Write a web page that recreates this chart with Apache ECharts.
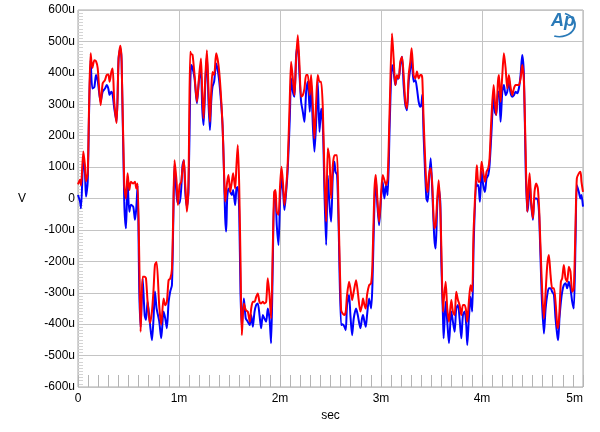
<!DOCTYPE html>
<html>
<head>
<meta charset="utf-8">
<script src="https://cdn.jsdelivr.net/npm/echarts@6/dist/echarts.min.js"></script>
<style>
  html, body { margin: 0; padding: 0; background: #fff; }
  #chart { width: 600px; height: 432px; }
</style>
</head>
<body>
<div id="chart"></div>
<script>
// time in ms, voltages in microvolts (u)
const timeMs = [
  0, 0.02, 0.03, 0.053, 0.069, 0.079, 0.096, 0.11, 0.125, 0.142, 0.162, 0.178, 0.195, 0.224, 0.244, 0.267,
  0.284, 0.30, 0.313, 0.33, 0.343, 0.359, 0.382, 0.402, 0.419, 0.432, 0.458, 0.475, 0.491, 0.508, 0.524, 0.547,
  0.564, 0.577, 0.59, 0.607, 0.62, 0.64, 0.66, 0.673, 0.689, 0.712, 0.732, 0.748, 0.762, 0.778, 0.804, 0.824,
  0.847, 0.864, 0.88, 0.897, 0.913, 0.93, 0.943, 0.956, 0.976, 0.989, 1.006, 1.022, 1.035, 1.048, 1.062, 1.078,
  1.094, 1.111, 1.121, 1.134, 1.154, 1.177, 1.2, 1.217, 1.23, 1.243, 1.26, 1.276, 1.293, 1.306, 1.319, 1.332,
  1.348, 1.368, 1.391, 1.411, 1.431, 1.444, 1.457, 1.467, 1.477, 1.49, 1.507, 1.523, 1.536, 1.556, 1.569, 1.582,
  1.596, 1.609, 1.622, 1.642, 1.661, 1.681, 1.701,
  1.715, 1.731, 1.748, 1.764, 1.78, 1.797, 1.813, 1.83, 1.846, 1.863, 1.879, 1.896, 1.912, 1.929, 1.942, 1.955,
  1.968, 1.985, 2.001, 2.015, 2.031, 2.044, 2.061, 2.077, 2.097, 2.11, 2.127, 2.143, 2.16, 2.176, 2.193, 2.209,
  2.226, 2.242, 2.259, 2.275, 2.295, 2.308, 2.325, 2.341, 2.358, 2.374, 2.391, 2.407, 2.424, 2.44, 2.457, 2.473,
  2.49, 2.506, 2.523, 2.539,
  2.549, 2.565, 2.58, 2.605, 2.62, 2.638, 2.651, 2.664, 2.684, 2.697, 2.714, 2.73, 2.753, 2.77, 2.796, 2.812,
  2.822, 2.836, 2.849, 2.862, 2.882, 2.902, 2.915, 2.934, 2.948, 2.964, 2.981, 3.0, 3.017, 3.033, 3.05, 3.066,
  3.086, 3.109, 3.125, 3.142, 3.158, 3.175, 3.191, 3.208, 3.224, 3.241, 3.257, 3.274, 3.29, 3.303, 3.323, 3.34,
  3.356, 3.373, 3.389,
  3.399, 3.409, 3.422, 3.449, 3.462, 3.475, 3.492, 3.508, 3.528, 3.541, 3.557, 3.571, 3.587, 3.597, 3.614, 3.62,
  3.64, 3.656, 3.673, 3.696, 3.712, 3.729, 3.745, 3.762, 3.778, 3.795, 3.811, 3.828, 3.844, 3.854, 3.87, 3.887,
  3.903, 3.917, 3.943, 3.949, 3.963, 3.979, 3.996, 4.012, 4.029, 4.045, 4.062, 4.075, 4.092, 4.115, 4.128, 4.141,
  4.158, 4.168, 4.184, 4.201, 4.217, 4.234, 4.25,
  4.266, 4.28, 4.299, 4.316, 4.332, 4.349, 4.365, 4.382, 4.398, 4.415, 4.432, 4.448, 4.458, 4.471, 4.487, 4.504,
  4.52, 4.537, 4.553, 4.567, 4.59, 4.613, 4.63, 4.646, 4.662, 4.679, 4.695, 4.712, 4.728, 4.745, 4.754, 4.767,
  4.781, 4.794, 4.81, 4.827, 4.843, 4.86, 4.876, 4.893, 4.909, 4.926, 4.939, 4.959, 4.975, 4.985, 5.0
];

const redUv = [
  45, 60, 42, 150, 105, 55, 80, 300, 462, 415, 440, 437, 415, 297, 366, 377,
  393, 395, 372, 403, 414, 308, 240, 446, 486, 436, 43, 0, 80, 27, 53, 48,
  53, 32, 48, -200, -424, -249, -249, -254, -328, -397, -360, -290, -211, -202, -340, -402,
  -318, -340, -329, -260, -255, -225, -50, 122, 53, -21, 43, 53, 96, 122, 43, -42,
  53, 467, 460, 457, 393, 308, 393, 446, 340, 255, 382, 472, 340, 244, 340, 403,
  393, 462, 425, 350, 234, 106, -10, 20, 53, 75, 21, 53, 80, 32, 106, 170,
  43, -200, -435, -334, -355, -360, -392,
  -350, -329, -329, -313, -302, -329, -334, -329, -334, -329, -254, -307, -381, -150, 20, 27,
  -42, -52, 43, 101, 43, -21, 32, 117, 319, 435, 382, 329, 446, 520, 425, 324,
  329, 350, 393, 393, 329, 393, 297, 191, 308, 393, 372, 372, 287, 75, -74, 160,
  128, 0, 106, 138,
  138, 138, -50, -355, -366, -371, -360, -307, -265, -286, -323, -297, -260, -297, -360, -339,
  -318, -339, -350, -307, -276, -270, -212, 21, 75, 0, -74, 11, 75, 59, 43, 64,
  287, 525, 446, 361, 393, 382, 435, 451, 393, 308, 287, 393, 435, 478, 393, 382,
  404, 382, 393,
  393, 382, 250, 43, 21, 75, 96, 43, -95, -85, 0, 58, -31, -150, -361, -330,
  -265, -350, -392, -323, -360, -371, -297, -323, -339, -371, -339, -339, -360, -392, -328, -276,
  -297, -100, 80, 106, 53, 53, 117, 85, 53, 85, 96, 128, 250, 361, 308, 266,
  372, 393, 308, 393, 462, 414, 350,
  393, 361, 329, 350, 361, 361, 361, 382, 425, 372, 150, -42, 21, 80, -10, -63,
  21, 48, 32, -42, -250, -382, -297, -212, -180, -244, -286, -286, -329, -403, -413, -360,
  -265, -254, -212, -254, -265, -217, -233, -297, -286, -85, 64, 80, 85, 53, 21
];

const blueUv = [
  11, -10, -31, 133, 80, 6, 53, 280, 440, 350, 355, 393, 375, 308, 340, 350,
  361, 350, 330, 340, 330, 287, 244, 446, 478, 436, -10, -95, 53, -42, -20, -26,
  -68, -31, 43, -300, -410, -254, -371, -387, -328, -397, -451, -381, -296, -350, -390, -445,
  -360, -382, -413, -330, -296, -276, -80, 106, 11, -15, -15, 32, 106, 122, 21, -26,
  20, 350, 425, 415, 382, 303, 382, 404, 287, 234, 361, 457, 297, 218, 308, 356,
  372, 430, 393, 329, 234, 100, -60, -105, 0, 32, 21, 11, 27, -21, 32, 37,
  -42, -300, -410, -318, -382, -392, -403,
  -371, -408, -360, -339, -334, -371, -413, -371, -382, -392, -350, -382, -461, -200, 0, 0,
  -85, -148, 0, 64, 21, -37, 21, 96, 255, 382, 340, 324, 457, 489, 393, 308,
  276, 244, 340, 372, 276, 372, 234, 149, 244, 372, 212, 286, 234, 21, -148, 74,
  -20, -74, 74, 117,
  85, 75, -80, -403, -400, -408, -419, -339, -307, -371, -435, -382, -350, -371, -413, -382,
  -371, -392, -408, -371, -318, -350, -276, -30, 64, -21, -85, 0, 53, 0, 43, 11,
  234, 425, 404, 361, 382, 382, 425, 451, 361, 297, 281, 372, 414, 446, 372, 377,
  350, 308, 292,
  297, 330, 200, 0, -10, 53, 128, 21, -127, -159, -21, 32, -10, -200, -380, -445,
  -329, -392, -461, -360, -392, -424, -350, -339, -382, -445, -371, -360, -403, -466, -382, -313,
  -360, -150, 53, 40, 43, -10, 85, 43, 21, 64, 75, 106, 200, 329, 276, 266,
  340, 340, 244, 340, 361, 329, 340,
  382, 340, 324, 329, 340, 335, 350, 393, 457, 393, 100, -42, -20, 53, -20, -68,
  0, 0, -5, -60, -300, -430, -350, -307, -286, -286, -297, -307, -382, -435, -451, -382,
  -329, -297, -276, -270, -286, -265, -286, -328, -350, -138, 43, 21, 0, 11, -26
];

const yTicks = [-600, -500, -400, -300, -200, -100, 0, 100, 200, 300, 400, 500, 600];
const xTicks = [0, 1, 2, 3, 4, 5];

const zip = vals => timeMs.map((t, i) => [t, vals[i]]);

const chart = echarts.init(document.getElementById('chart'), null, { renderer: 'canvas' });
const font = '"Liberation Sans", Arial, sans-serif';

chart.setOption({
  animation: false,
  backgroundColor: '#ffffff',
  grid: {
    left: 78, right: 17, top: 10, bottom: 45,
    show: true, borderColor: '#a8a8a8', borderWidth: 1
  },
  xAxis: {
    type: 'value',
    min: xTicks[0], max: xTicks[xTicks.length - 1], interval: 1,
    name: 'sec', nameLocation: 'middle', nameGap: 21,
    nameTextStyle: { color: '#000', fontSize: 12, fontFamily: font },
    axisLine: { show: false, onZero: false },
    axisTick: { show: true, inside: true, length: 12, lineStyle: { color: '#b4b4b4' } },
    minorTick: { show: true, splitNumber: 10, length: 12, lineStyle: { color: '#b4b4b4' } },
    splitLine: { show: true, lineStyle: { color: '#c4c4c4', width: 1 } },
    axisLabel: {
      color: '#000', fontSize: 12, fontFamily: font, margin: 6,
      alignMaxLabel: 'right',
      formatter: v => v === 0 ? '0' : v + 'm'
    }
  },
  yAxis: {
    type: 'value',
    min: yTicks[0], max: yTicks[yTicks.length - 1], interval: 100,
    name: 'V', nameLocation: 'middle', nameGap: 52, nameRotate: 0,
    nameTextStyle: { color: '#000', fontSize: 12, fontFamily: font },
    axisLine: { show: false, onZero: false },
    axisTick: { show: false, inside: true },
    minorTick: { show: true, splitNumber: 10, length: 5, lineStyle: { color: '#d4d4d4' } },
    splitLine: { show: true, lineStyle: { color: '#c4c4c4', width: 1 } },
    axisLabel: {
      color: '#000', fontSize: 12, fontFamily: font, margin: 3,
      formatter: v => v === 0 ? '0' : v + 'u'
    }
  },
  series: [
    {
      name: 'blue', type: 'line', data: zip(blueUv), showSymbol: false, smooth: 0.25,
      lineStyle: { color: '#0000ff', width: 2 }, itemStyle: { color: '#0000ff' }
    },
    {
      name: 'red', type: 'line', data: zip(redUv), showSymbol: false, smooth: 0.25,
      lineStyle: { color: '#ff0000', width: 2 }, itemStyle: { color: '#ff0000' }
    }
  ],
  graphic: [
    {
      type: 'arc', left: 551, top: 11,
      shape: { cx: 0, cy: 0, r: 12, startAngle: -1.2, endAngle: 1.9 },
      scaleX: 1.3,
      style: { stroke: '#2a7ab8', lineWidth: 1.6, fill: null }
    },
    {
      type: 'text', left: 551, top: 12,
      style: {
        text: 'Ap', fill: '#2a7ab8',
        font: 'italic bold 18px "Liberation Sans", Arial, sans-serif'
      }
    }
  ]
});
</script>
</body>
</html>
